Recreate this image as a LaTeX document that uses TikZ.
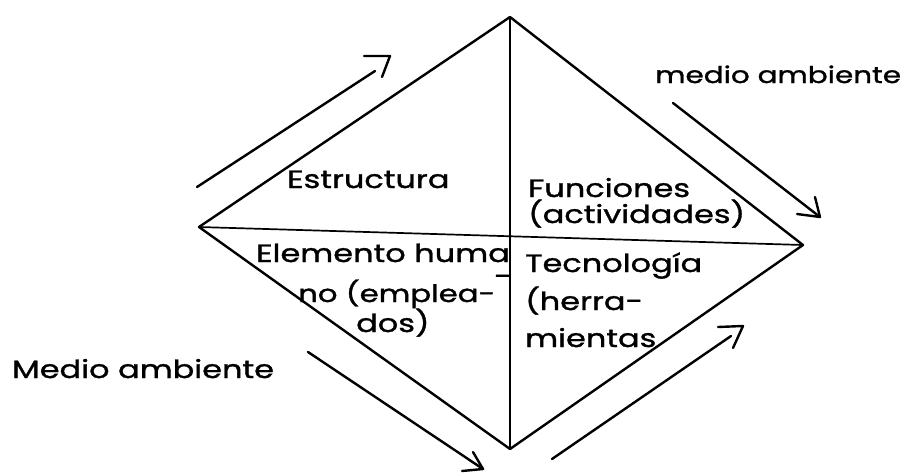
\documentclass[tikz,border=0pt]{standalone}
\usepackage{fontspec}
\setmainfont{Poppins}[FakeStretch=1.28,FakeBold=1.3]
\begin{document}
\begin{tikzpicture}[x=1pt,y=-1pt,
  edge/.style={line width=2.4pt,line cap=round,line join=round},
  thin edge/.style={line width=1.7pt,line cap=round},
  lbl/.style={anchor=base west,inner sep=0pt,font=\fontsize{25}{28}\selectfont}]
\useasboundingbox (0,0) rectangle (909,474);
% diamond vertices
\coordinate (T) at (510,17);
\coordinate (L) at (199,227);
\coordinate (R) at (803,245);
\coordinate (B) at (510,449);
\draw[edge] (T) -- (R) -- (B) -- (L) -- cycle;
\draw[thin edge] (L) -- (R);
\draw[thin edge] (T) -- (B);
% arrows
\coordinate (a1s) at (197,187); \coordinate (a1e) at (375,71);
\coordinate (a1p) at (364,56); \coordinate (a1t) at (390,56); \coordinate (a1q) at (382,77);
\draw[edge] (a1s) -- (a1e);
\draw[edge] (a1p) -- (a1t) -- (a1q);
\coordinate (a2s) at (673,103); \coordinate (a2t) at (820,217);
\coordinate (a2p) at (797,214); \coordinate (a2q) at (815,197);
\draw[edge] (a2s) -- (a2t);
\draw[edge] (a2p) -- (a2t) -- (a2q);
\coordinate (a3s) at (308,352); \coordinate (a3t) at (483,469);
\coordinate (a3p) at (473,452); \coordinate (a3q) at (462,471);
\draw[edge] (a3s) -- (a3t);
\draw[edge] (a3p) -- (a3t) -- (a3q);
\coordinate (a4s) at (552,459); \coordinate (a4e) at (731,336);
\coordinate (a4p) at (718,327); \coordinate (a4t) at (743,326); \coordinate (a4q) at (733,348);
\draw[edge] (a4s) -- (a4e);
\draw[edge] (a4p) -- (a4t) -- (a4q);
% labels
\node[lbl,font=\fontsize{23}{28}\selectfont] (ma1) at (655,83) {medio ambiente};
\node[lbl] (ma2) at (12,378) {Medio ambiente};
\node[lbl] (est) at (287,188) {Estructura};
\node[lbl] (fun1) at (528,197) {Funciones};
\node[lbl] (fun2) at (528,223) {(actividades)};
\node[lbl] (el1) at (256,262) {Elemento huma};
\node[lbl] (elh) at (494,285) {-};
\node[lbl,font=\fontsize{24}{28}\selectfont] (el2) at (298,302) {no (emplea-};
\node[lbl] (el3) at (356,332) {dos)};
\node[lbl] (te1) at (525,272) {Tecnología};
\node[lbl] (te2) at (525,310) {(herra-};
\node[lbl] (te3) at (525,347) {mientas};
\end{tikzpicture}
\end{document}
